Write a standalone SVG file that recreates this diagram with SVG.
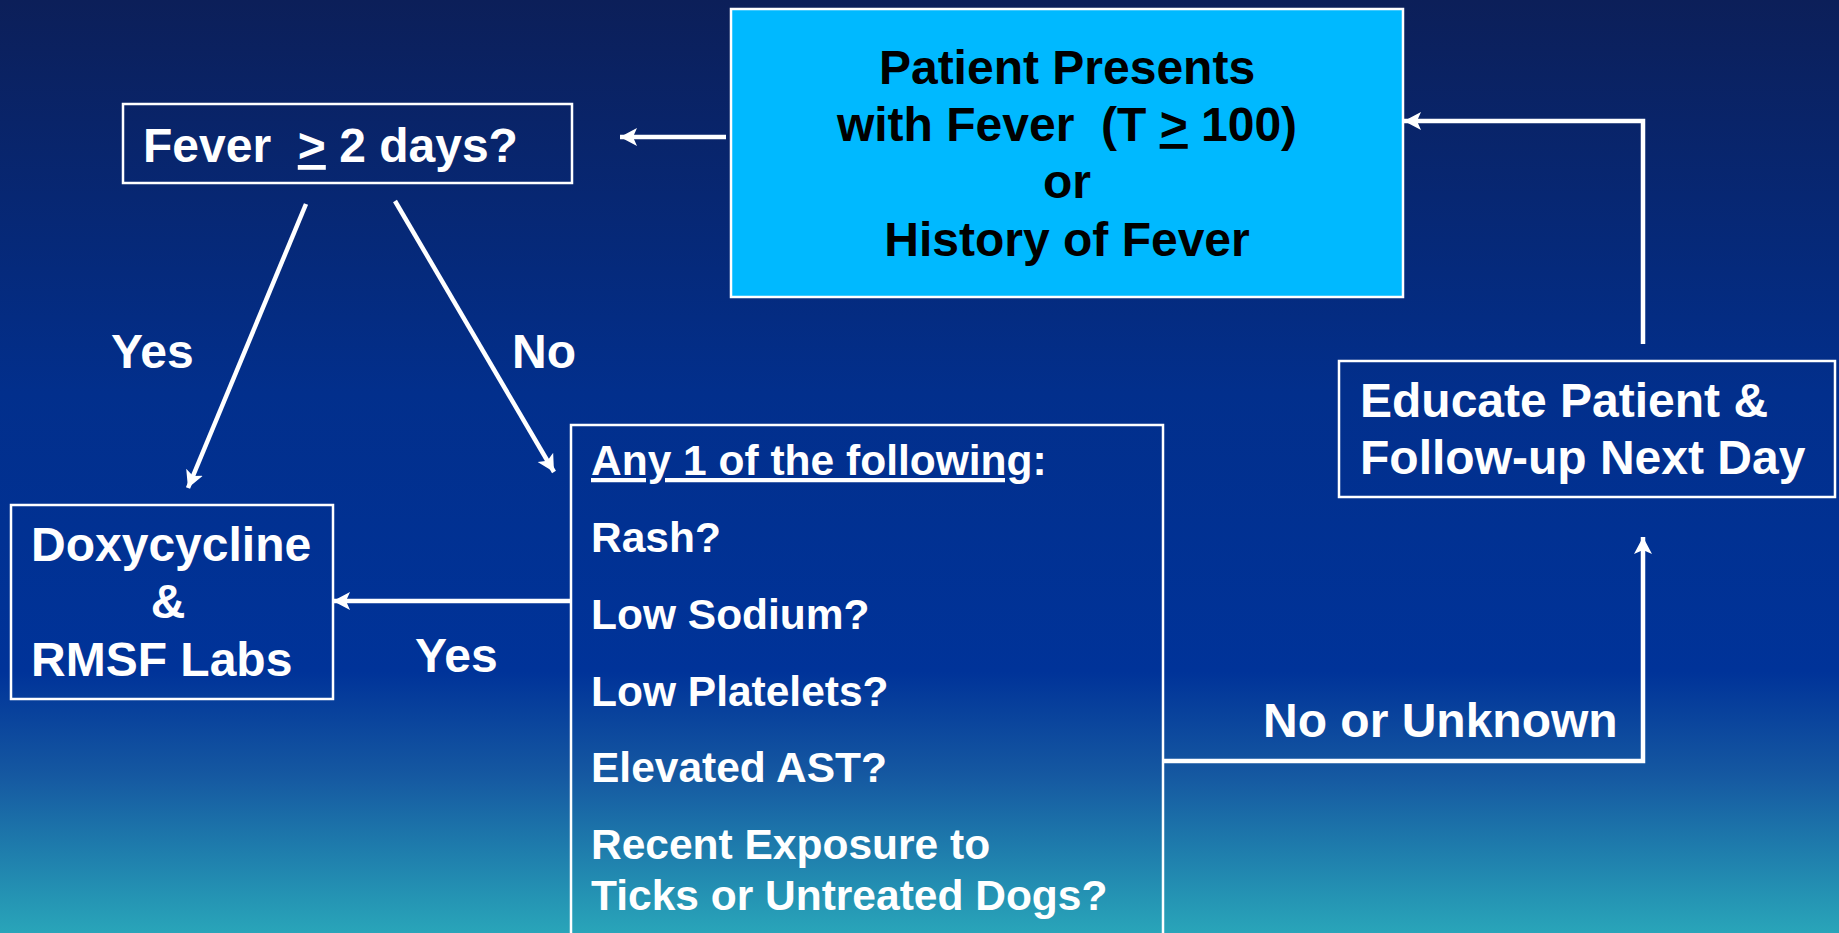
<svg xmlns="http://www.w3.org/2000/svg" width="1839" height="933" viewBox="0 0 1839 933">
<defs>
<linearGradient id="bg" x1="0" y1="0" x2="0" y2="1">
<stop offset="0" stop-color="#0c1f59"/>
<stop offset="0.42" stop-color="#022f8c"/>
<stop offset="0.72" stop-color="#003399"/>
<stop offset="0.83" stop-color="#1558a1"/>
<stop offset="1" stop-color="#29a5b9"/>
</linearGradient>
<marker id="arr" markerUnits="userSpaceOnUse" markerWidth="20" markerHeight="20" refX="17" refY="9" orient="auto">
<path d="M0,0 L17,9 L0,18 L4,9 Z" fill="#ffffff"/>
</marker>
<style>
.box{fill:none;stroke:#ffffff;stroke-width:2.5}
.t{font-family:"Liberation Sans",Arial,sans-serif;font-weight:bold;font-size:48px;fill:#ffffff;white-space:pre}
.dk{fill:#000000}
.l{font-size:42.5px}
.c{stroke:#ffffff;stroke-width:4.5;fill:none;marker-end:url(#arr)}
</style>
</defs>
<rect x="0" y="0" width="1839" height="933" fill="url(#bg)"/>

<g id="connectors">
<line class="c" x1="726" y1="137" x2="620" y2="137"/>
<line class="c" x1="306" y1="204" x2="188" y2="488"/>
<line class="c" x1="395" y1="201" x2="554" y2="472"/>
<line class="c" x1="571" y1="601" x2="333" y2="601"/>
<polyline class="c" points="1163,761 1643,761 1643,537"/>
<polyline class="c" points="1643,344 1643,121 1404,121"/>
<text class="t" x="111" y="368">Yes</text>
<text class="t" x="512" y="368">No</text>
<text class="t" x="415" y="672">Yes</text>
<text class="t" x="1263" y="737">No or Unknown</text>
</g>

<g id="patient">
<rect x="731" y="9" width="672" height="288" fill="#00b9ff" stroke="#ffffff" stroke-width="2.5"/>
<text class="t dk" x="1067" y="84" text-anchor="middle">Patient Presents</text>
<text class="t dk" x="1067" y="141" text-anchor="middle">with Fever  (T <tspan text-decoration="underline">&gt;</tspan> 100)</text>
<text class="t dk" x="1067" y="198" text-anchor="middle">or</text>
<text class="t dk" x="1067" y="256" text-anchor="middle">History of Fever</text>
</g>

<g id="fever">
<rect class="box" x="123" y="104" width="449" height="79"/>
<text class="t" x="143" y="162">Fever  <tspan text-decoration="underline">&gt;</tspan> 2 days?</text>
</g>

<g id="doxy">
<rect class="box" x="11" y="505" width="322" height="194"/>
<text class="t" x="31" y="561">Doxycycline</text>
<text class="t" x="168" y="618" text-anchor="middle">&amp;</text>
<text class="t" x="31" y="676">RMSF Labs</text>
</g>

<g id="criteria">
<rect class="box" x="571" y="425" width="592" height="540"/>
<text class="t l" x="591" y="475"><tspan text-decoration="underline">Any 1 of the following</tspan>:</text>
<text class="t l" x="591" y="552">Rash?</text>
<text class="t l" x="591" y="629">Low Sodium?</text>
<text class="t l" x="591" y="706">Low Platelets?</text>
<text class="t l" x="591" y="782">Elevated AST?</text>
<text class="t l" x="591" y="859">Recent Exposure to</text>
<text class="t l" x="591" y="910">Ticks or Untreated Dogs?</text>
</g>

<g id="educate">
<rect class="box" x="1339" y="361" width="496" height="136"/>
<text class="t" x="1360" y="417">Educate Patient &amp;</text>
<text class="t" x="1360" y="474">Follow-up Next Day</text>
</g>
</svg>
